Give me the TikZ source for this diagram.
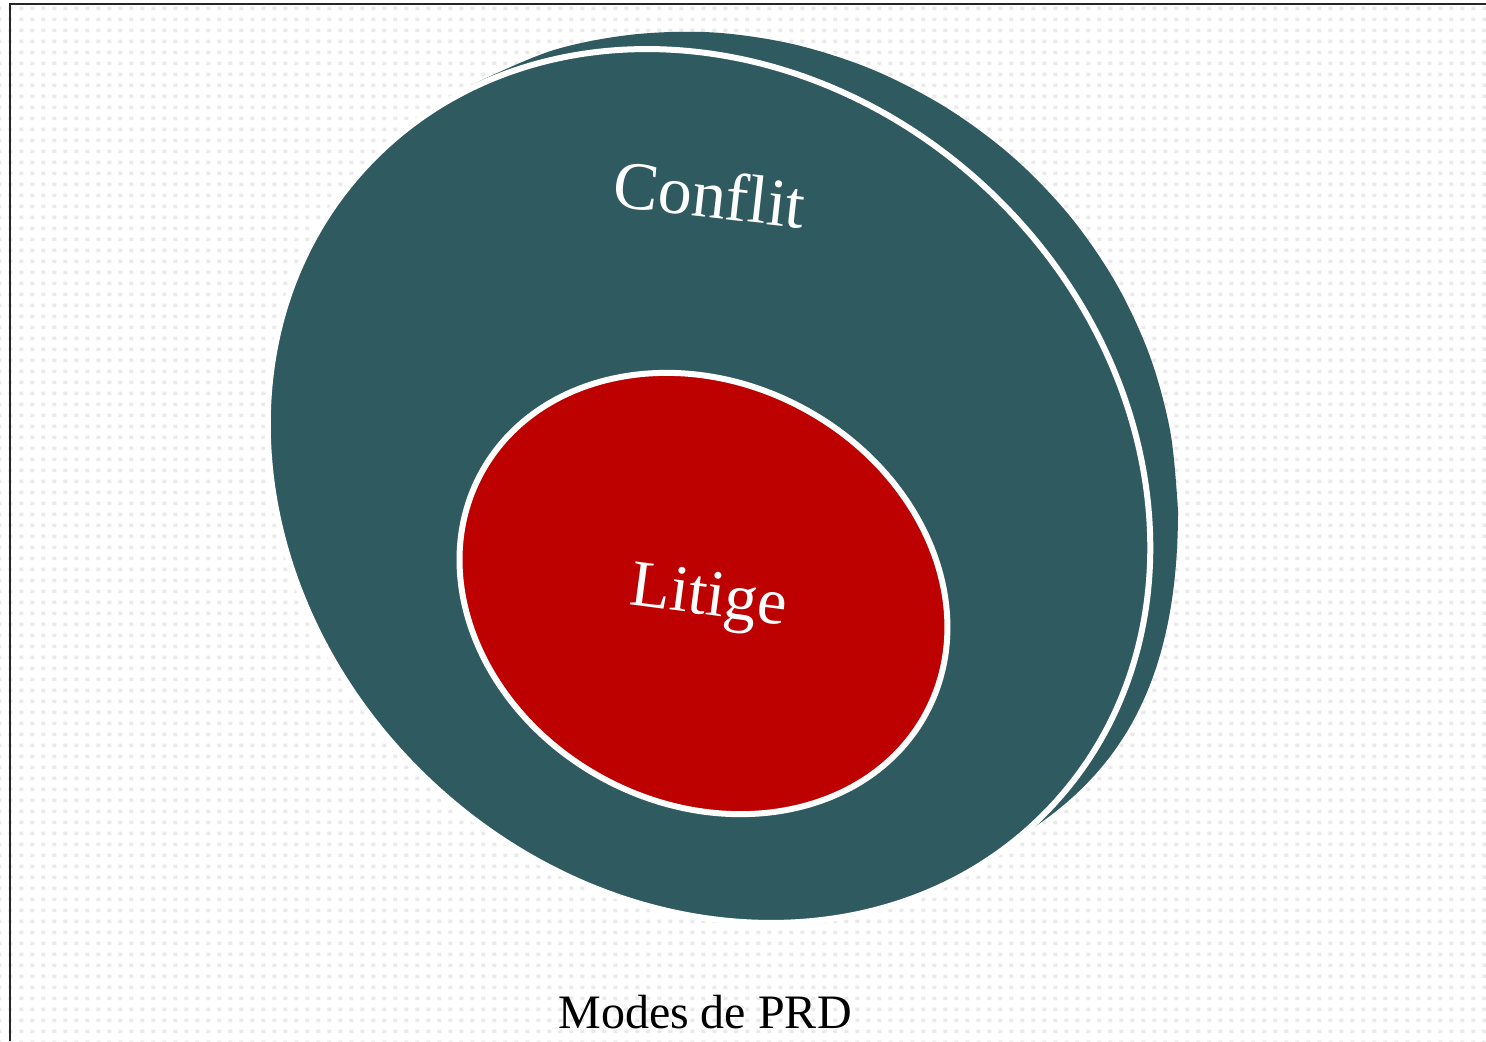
\documentclass[tikz,border=0pt]{standalone}
\usepackage{fontspec}
\setmainfont{Liberation Serif}
\definecolor{tealc}{HTML}{2F5B60}
\definecolor{redc}{HTML}{BD0000}
\definecolor{dotc}{HTML}{EAEAEA}
\tikzset{
  dotfill/.style={fill=dotc},
  mainshape/.style={fill=tealc, draw=white, line width=3pt},
  backshape/.style={fill=tealc},
  innershape/.style={fill=redc, draw=white, line width=3pt},
  bigtext/.style={text=white, inner sep=0pt, anchor=base},
  captiontext/.style={text=black, inner sep=0pt, anchor=base, font=\fontsize{24}{28}\selectfont},
  framelines/.style={draw=black!85, line width=1pt}
}
\begin{document}
\begin{tikzpicture}[x=0.5pt,y=0.5pt]
\useasboundingbox (0,0) rectangle (1486,1041);
\fill[white] (0,0) rectangle (1486,1041);
% dotted background
\foreach \j in {0,...,94}{
  \fill[dotfill] \foreach \i in {-1,...,134}{ ({8.3+11*\i},{1034.3-11*\j}) rectangle ++(4,-3.5) };
}
% frame
\draw[framelines] (9.5,0) -- (9.5,1036.5) -- (1486,1036.5);
% centres
\coordinate (mc) at (709,555);
\coordinate (ic) at (703.5,447.5);
% back crescent (hidden inside the main ellipse except on its upper right)
\fill[backshape] (mc) -- plot[smooth, tension=0.55] coordinates {
  (458,947) (482,961) (554.9,991.3) (633.2,1006.5) (713.9,1008.5) (794.6,996.5)
  (872.7,971.3) (946,933.5) (1012.3,884.5) (1069.4,825.5) (1115.7,758.3)
  (1149.8,685.1) (1170.5,608.1) (1178,530)}
  .. controls (1178,361) and (1121.3,271.5) .. (1030,211) -- (1008,196) -- cycle;
% main ellipse
\path[mainshape, rotate around={-43:(mc)}] (mc) ellipse [x radius=234.5pt, y radius=203.5pt];
% inner ellipse
\path[innershape, rotate around={-28.3:(ic)}] (ic) ellipse [x radius=126.4pt, y radius=105.2pt];
% texts
\node[bigtext, rotate=-6.4, font=\fontsize{34}{40}\selectfont] (conflit) at (707,823.5) {Conflit};
\node[bigtext, rotate=-7.5, font=\fontsize{33}{38}\selectfont] (litige) at (706.5,426) {Litige};
\node[captiontext] (caption) at (705,13) {Modes de PRD};
\end{tikzpicture}
\end{document}
